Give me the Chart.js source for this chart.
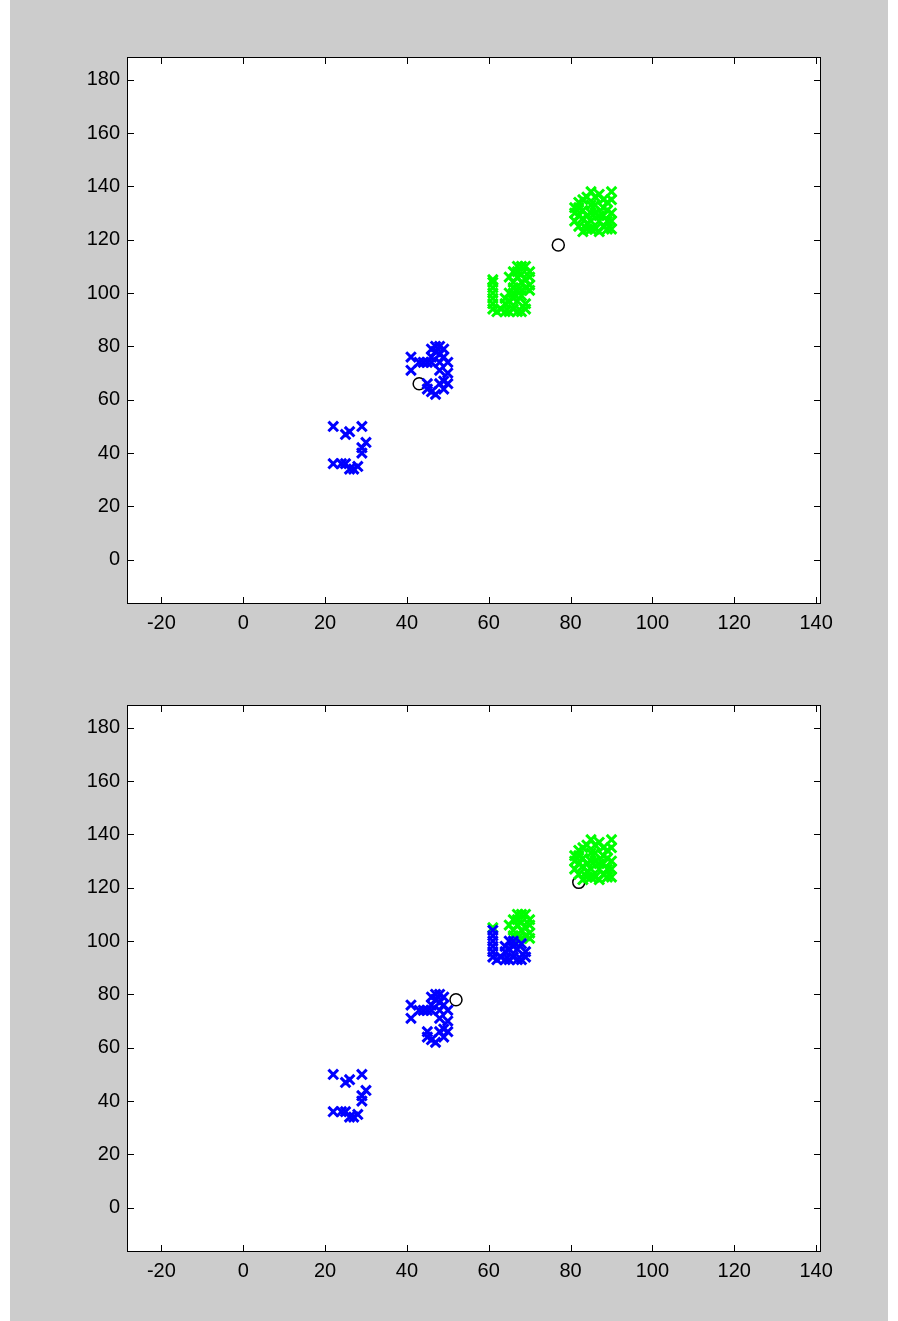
<!DOCTYPE html>
<html>
<head>
<meta charset="utf-8">
<script src="https://cdn.jsdelivr.net/npm/chart.js@4"></script>
<style>
  body { margin: 0; background: #fff; }
  #bg { position: absolute; left: 10px; top: 0; width: 878px; height: 1321px; background: #cccccc; }
  canvas { position: absolute; left: 0; }
</style>
</head>
<body>
<div id="bg"></div>
<canvas id="top" width="898" height="650" style="top:0"></canvas>
<canvas id="bottom" width="898" height="650" style="top:648px"></canvas>
<script>
// points, [x, y]
var groupA = [[22,50],[26,48],[25,47],[29,50],[30,44],[29,42],[29,40],[22,36],[24,36],[25,36],[26,34],[27,34],[28,35]];
var groupB = [[41,76],[41,71],[43,74],[44,74],[45,74],[46,76],[46,79],[47,78],[47,80],[48,80],[48,77],[49,79],
              [49,76],[50,74],[48,74],[48,71],[50,70],[49,67],[50,66],[45,66],[45,64],[46,63],[47,62],[49,64],[48,66],[46,74]];
// third group: lower part goes blue in the second run, upper part stays green
var groupCLow = [[61,104],[61,102],[61,100],[61,98],[61,96],[61,94],[62,93],[63,94],[64,93],[65,93],[66,94],[67,93],
                 [68,93],[69,94],[64,96],[65,97],[67,97],[69,96],[66,100],[68,99],[66,98],[65,100],[64,98]];
var groupCHigh = [[61,105],[67,101],[66,108],[67,110],[68,110],[69,110],[70,108],[70,106],[67,106],[66,104],[68,104],
                  [69,102],[70,101],[68,107],[69,105],[65,106],[66,102],[68,101],[70,103],[67,108]];
var groupD = [[81,130],[81,127],[82,132],[83,135],[85,138],[86,136],[88,135],[90,138],[90,135],[89,131],[89,127],
              [90,124],[87,123],[84,124],[82,125],[86,130],[87,127],[84,129],[88,125],[83,128],[85,133],[88,132],
              [86,124],[82,129],[84,136],[90,130],[86,133],[83,131],[85,127],[87,129],[89,134],[84,126],[88,129],
              [82,134],[87,137],[83,123],[85,124],[89,124],[81,132],[90,127],[85,130]];
var centersTop = [[43,66],[77,118]];
var centersBottom = [[52,78],[82,122]];

var xTicksStep = 20, yTicksStep = 20;

function pts(list) { return list.map(function (p) { return { x: p[0], y: p[1] }; }); }

var frame = {
  id: 'frame',
  beforeDraw: function (chart) {
    var a = chart.chartArea, ctx = chart.ctx;
    ctx.save();
    ctx.fillStyle = '#fff';
    ctx.fillRect(a.left, a.top, a.width, a.height);
    ctx.restore();
  },
  afterDraw: function (chart) {
    var a = chart.chartArea, ctx = chart.ctx, x = chart.scales.x, y = chart.scales.y;
    ctx.save();
    ctx.strokeStyle = '#000';
    ctx.lineWidth = 1;
    ctx.beginPath();
    x.ticks.forEach(function (t) {
      var px = Math.round(x.getPixelForValue(t.value)) + 0.5;
      ctx.moveTo(px, a.bottom); ctx.lineTo(px, a.bottom - 7);
      ctx.moveTo(px, a.top); ctx.lineTo(px, a.top + 7);
    });
    y.ticks.forEach(function (t) {
      var py = Math.round(y.getPixelForValue(t.value)) + 0.5;
      ctx.moveTo(a.left, py); ctx.lineTo(a.left + 7, py);
      ctx.moveTo(a.right, py); ctx.lineTo(a.right - 7, py);
    });
    ctx.stroke();
    ctx.strokeRect(Math.round(a.left) + 0.5, Math.round(a.top) + 0.5, Math.round(a.width) - 1, Math.round(a.height) - 1);
    ctx.restore();
  }
};

function makeChart(id, blue, green, centers) {
  var cross = { pointStyle: 'crossRot', radius: 6.8, borderWidth: 3, showLine: false };
  new Chart(document.getElementById(id), {
    type: 'scatter',
    data: {
      datasets: [
        Object.assign({ data: pts(blue), borderColor: '#0000ff', backgroundColor: '#0000ff' }, cross),
        Object.assign({ data: pts(green), borderColor: '#00ff00', backgroundColor: '#00ff00' }, cross),
        { data: pts(centers), pointStyle: 'circle', radius: 6, borderWidth: 1.5,
          borderColor: '#000', backgroundColor: 'rgba(0,0,0,0)', showLine: false }
      ]
    },
    options: {
      responsive: false,
      animation: false,
      devicePixelRatio: 1,
      layout: { padding: { top: 57, right: 77, left: 0, bottom: 0 } },
      plugins: { legend: { display: false }, tooltip: { enabled: false } },
      scales: {
        x: {
          type: 'linear', min: -28.4, max: 141.2,
          grid: { display: false, drawTicks: false }, border: { display: false },
          ticks: { stepSize: xTicksStep, includeBounds: false, padding: 7, color: '#000',
                   font: { family: 'Liberation Sans, Arial, sans-serif', size: 20 } },
          afterFit: function (s) { s.height = 46; }
        },
        y: {
          type: 'linear', min: -16.6, max: 188.5,
          grid: { display: false, drawTicks: false }, border: { display: false },
          ticks: { stepSize: yTicksStep, includeBounds: false, padding: 7, color: '#000',
                   font: { family: 'Liberation Sans, Arial, sans-serif', size: 20 } },
          afterFit: function (s) { s.width = 127; }
        }
      }
    },
    plugins: [frame]
  });
}

makeChart('top', groupA.concat(groupB), groupCLow.concat(groupCHigh, groupD), centersTop);
makeChart('bottom', groupA.concat(groupB, groupCLow), groupCHigh.concat(groupD), centersBottom);
</script>
</body>
</html>
